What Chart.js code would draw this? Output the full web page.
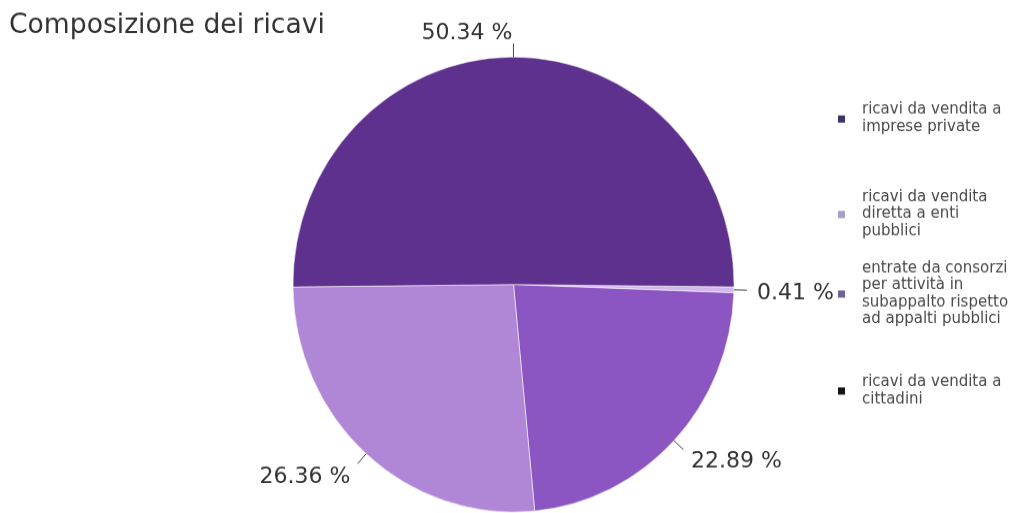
<!DOCTYPE html>
<html lang="it">
<head>
<meta charset="utf-8">
<title>Composizione dei ricavi</title>
<script src="https://cdn.jsdelivr.net/npm/chart.js@4/dist/chart.umd.min.js"></script>
<style>
  html, body { margin: 0; padding: 0; background: #ffffff; overflow: hidden; }
  #wrap { position: relative; width: 1013px; height: 513px; overflow: hidden; }
  /* the figure is drawn slightly taller than wide */
  #stage { position: absolute; left: 0; top: 0; width: 1013px; height: 513px;
           transform: scaleY(1.032); transform-origin: 0 0; }
</style>
</head>
<body>
<div id="wrap"><div id="stage"><canvas id="pie" width="1013" height="513"></canvas></div></div>
<script>
// Revenue composition, in legend order
const categories = [
  'ricavi da vendita a imprese private',
  'ricavi da vendita diretta a enti pubblici',
  'entrate da consorzi per attività in subappalto rispetto ad appalti pubblici',
  'ricavi da vendita a cittadini'
];
const shares = [50.34, 26.36, 22.89, 0.41];
const sliceColors = ['#5e318e', '#b086d6', '#8c56c2', '#d2b6f0'];
const markerColors = ['#3b3566', '#a79dc8', '#6f6394', '#141414'];
const chartTitle = 'Composizione dei ricavi';

const FONT = '"DejaVu Sans", "Noto Sans", sans-serif';
const SY = 1.032; // vertical stretch applied to the stage

// The slices run counter-clockwise from just below 3 o'clock; Chart.js draws
// clockwise, so the dataset is fed in reverse order.
const order = shares.map((_, i) => shares.length - 1 - i);

function wrapText(ctx, text, maxWidth) {
  const words = text.split(' ');
  const lines = [];
  let line = '';
  for (const w of words) {
    const test = line ? line + ' ' + w : w;
    if (line && ctx.measureText(test).width > maxWidth) {
      lines.push(line);
      line = w;
    } else {
      line = test;
    }
  }
  if (line) lines.push(line);
  return lines;
}

const decorations = {
  id: 'decorations',
  afterDraw(chart) {
    const ctx = chart.ctx;
    const meta = chart.getDatasetMeta(0);
    ctx.save();

    // title
    ctx.fillStyle = '#333333';
    ctx.font = '26.6px ' + FONT;
    ctx.textAlign = 'left';
    ctx.textBaseline = 'alphabetic';
    ctx.fillText(chartTitle, 9, 33 / SY);

    // percentage labels with short leader lines
    ctx.font = '22px ' + FONT;
    ctx.textBaseline = 'middle';
    meta.data.forEach((arc, i) => {
      const p = arc.getProps(['x', 'y', 'startAngle', 'endAngle', 'outerRadius'], true);
      const mid = (p.startAngle + p.endAngle) / 2;
      const dx = Math.cos(mid), dy = Math.sin(mid);
      const r = p.outerRadius;
      const x0 = p.x + dx * r, y0 = p.y + dy * r;
      const x1 = x0 + dx * 13, y1 = y0 + dy * 13;
      ctx.strokeStyle = '#444444';
      ctx.lineWidth = 1;
      ctx.beginPath();
      ctx.moveTo(x0, y0);
      ctx.lineTo(x1, y1);
      ctx.stroke();
      const value = chart.data.datasets[0].data[i];
      const side = dx >= 0 ? 1 : -1;
      const tx = x1 + side * 1 + dx * 9;
      const ty = y1 + dy * 13 + 3;
      ctx.fillStyle = '#333333';
      ctx.textAlign = side > 0 ? 'left' : 'right';
      ctx.fillText(value.toFixed(2) + ' %', tx, ty);
    });

    // legend
    const legendTops = [110, 197, 268, 382];
    const lineH = 17;
    ctx.font = '15px ' + FONT;
    ctx.textAlign = 'left';
    ctx.textBaseline = 'middle';
    categories.forEach((name, i) => {
      const lines = wrapText(ctx, name, 152);
      const top = legendTops[i];
      ctx.fillStyle = '#4a4a4a';
      lines.forEach((ln, k) => ctx.fillText(ln, 862, (top + k * lineH) / SY));
      const my = (top + (lines.length - 1) * lineH / 2) / SY;
      ctx.fillStyle = markerColors[i];
      ctx.fillRect(838, my - 3, 7, 7);
    });

    ctx.restore();
  }
};

new Chart(document.getElementById('pie'), {
  type: 'pie',
  data: {
    labels: order.map(i => categories[i]),
    datasets: [{
      data: order.map(i => shares[i]),
      backgroundColor: order.map(i => sliceColors[i]),
      borderColor: 'rgba(255,255,255,0.55)',
      borderWidth: 1,
      hoverOffset: 0
    }]
  },
  options: {
    responsive: false,
    animation: false,
    events: [],
    rotation: 90.6,
    layout: { padding: { left: 292.5, right: 278.5, top: 54.7, bottom: 16.3 } },
    plugins: {
      legend: { display: false },
      tooltip: { enabled: false },
      title: { display: false }
    }
  },
  plugins: [decorations]
});
</script>
</body>
</html>
